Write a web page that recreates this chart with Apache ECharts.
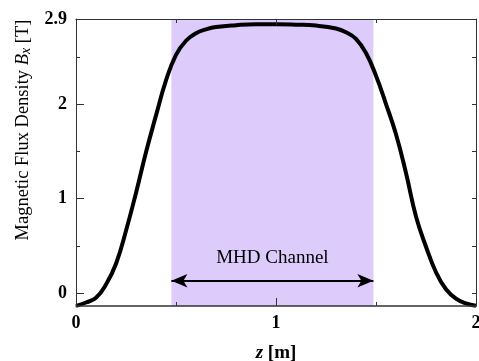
<!DOCTYPE html>
<html><head><meta charset="utf-8">
<script src="https://cdn.jsdelivr.net/npm/echarts@6/dist/echarts.min.js"></script>
<style>html,body{margin:0;padding:0;background:#fff}#c{width:479px;height:361px}</style>
</head><body><div id="c"></div>
<script>
const zValues = [0,0.05,0.10,0.15,0.20,0.25,0.30,0.35,0.40,0.45,0.50,0.55,0.60,0.65,0.70,0.80,0.90,1.00,1.10,1.20,1.30,1.35,1.40,1.45,1.50,1.55,1.60,1.65,1.70,1.75,1.80,1.85,1.90,1.95,2.00];
const bValues = [-0.135,-0.10,-0.05,0.09,0.31,0.66,1.06,1.49,1.88,2.25,2.52,2.67,2.75,2.79,2.815,2.835,2.845,2.845,2.84,2.83,2.80,2.76,2.69,2.54,2.30,2.00,1.68,1.27,0.81,0.49,0.22,0.04,-0.06,-0.11,-0.135];
const xTickLabels = [0,1,2];
const yTickLabels = [0,1,2,2.9];
const channelRange = [0.477,1.487];
const arrowLevel = 0.13;
const channelLabel = 'MHD Channel';

const FF = "'Liberation Serif','Times New Roman',serif";
const YMIN = -0.137, YMAX = 2.9;
const data = zValues.map((z,i)=>[z,bValues[i]]);
const lineC = '#333';

const chart = echarts.init(document.getElementById('c'));
chart.setOption({
  animation:false,
  grid:{left:76,right:3,top:19,bottom:55,containLabel:false,outerBoundsMode:'none'},
  xAxis:[
    {type:'value',min:0,max:2,position:'bottom',z:10,
     axisLine:{show:true,onZero:false,lineStyle:{color:lineC,width:1.5}},
     axisTick:{show:true,inside:true,length:4,customValues:[0.5,1.5],lineStyle:{color:lineC}},
     axisLabel:{show:true,customValues:xTickLabels,margin:8,fontFamily:FF,fontWeight:'bold',fontSize:18,color:'#000'},
     splitLine:{show:false},
     name:'{i|z} [m]',nameLocation:'middle',nameGap:38,
     nameTextStyle:{fontFamily:FF,fontWeight:'bold',fontSize:19,color:'#000',
       rich:{i:{fontFamily:FF,fontStyle:'italic',fontWeight:'bold',fontSize:19,color:'#000'}}}},
    {type:'value',min:0,max:2,position:'bottom',z:10,
     axisLine:{show:false,onZero:false},
     axisTick:{show:true,inside:true,length:8,customValues:[1],lineStyle:{color:lineC}},
     axisLabel:{show:false},splitLine:{show:false}},
    {type:'value',min:0,max:2,position:'top',z:10,
     axisLine:{show:true,onZero:false,lineStyle:{color:lineC,width:1}},
     axisTick:{show:true,inside:true,length:4,customValues:[0.5,1.5],lineStyle:{color:lineC}},
     axisLabel:{show:false},splitLine:{show:false}},
    {type:'value',min:0,max:2,position:'top',z:10,
     axisLine:{show:false,onZero:false},
     axisTick:{show:true,inside:true,length:6,customValues:[1],lineStyle:{color:lineC}},
     axisLabel:{show:false},splitLine:{show:false}}
  ],
  yAxis:[
    {type:'value',min:YMIN,max:YMAX,position:'left',z:10,
     axisLine:{show:true,onZero:false,lineStyle:{color:lineC,width:1}},
     axisTick:{show:true,inside:true,length:4,customValues:[0.5,1.5,2.5],lineStyle:{color:lineC}},
     axisLabel:{show:true,customValues:yTickLabels,margin:9,fontFamily:FF,fontWeight:'bold',fontSize:18,color:'#000'},
     splitLine:{show:false}},
    {type:'value',min:YMIN,max:YMAX,position:'left',z:10,
     axisLine:{show:false,onZero:false},
     axisTick:{show:true,inside:true,length:8,customValues:[0,1,2],lineStyle:{color:lineC}},
     axisLabel:{show:false},splitLine:{show:false}},
    {type:'value',min:YMIN,max:YMAX,position:'right',z:10,
     axisLine:{show:true,onZero:false,lineStyle:{color:lineC,width:1}},
     axisTick:{show:true,inside:true,length:4,customValues:[0,0.5,1,1.5,2,2.5],lineStyle:{color:lineC}},
     axisLabel:{show:false},splitLine:{show:false}}
  ],
  graphic:[{
    type:'text',x:23,y:130,rotation:Math.PI/2,z:20,
    style:{text:'Magnetic Flux Density {i|B}{s|x} [T]',fontFamily:FF,fontSize:18.5,fill:'#000',
      align:'center',verticalAlign:'middle',
      rich:{i:{fontFamily:FF,fontStyle:'italic',fontSize:18.5,fill:'#000'},
            s:{fontFamily:FF,fontStyle:'italic',fontSize:14,fill:'#000',padding:[6,0,0,0]}}}
  }],
  series:[{
    type:'line',xAxisIndex:0,yAxisIndex:0,data:data,smooth:0.45,showSymbol:false,symbol:'none',
    clip:false,
    lineStyle:{color:'#000',width:4},z:5,
    markArea:{silent:true,itemStyle:{color:'#dccbfb',opacity:1},
      data:[[{xAxis:channelRange[0]},{xAxis:channelRange[1]}]]},
    markLine:{silent:true,symbol:['arrow','arrow'],symbolSize:[10,16],
      lineStyle:{color:'#000',width:2,type:'solid'},
      label:{show:true,position:'middle',distance:13,formatter:channelLabel,fontFamily:FF,fontSize:19,color:'#000'},
      data:[[{coord:[channelRange[0],arrowLevel]},{coord:[channelRange[1],arrowLevel]}]]}
  }]
});
</script></body></html>
